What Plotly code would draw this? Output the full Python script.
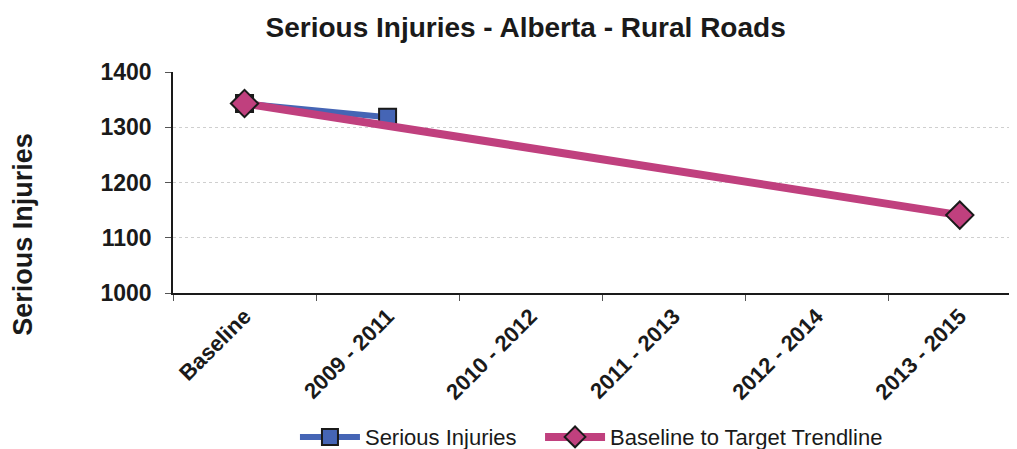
import plotly.graph_objects as go

# Chart data
periods = ["Baseline", "2009 - 2011", "2010 - 2012", "2011 - 2013", "2012 - 2014", "2013 - 2015"]
serious_injuries = [1343, 1318, None, None, None, None]
target_trendline = [1343, None, None, None, None, 1141]

FONT = "Liberation Sans, Arial, sans-serif"

fig = go.Figure()

fig.add_trace(go.Scatter(
    x=periods, y=serious_injuries, name="Serious Injuries",
    mode="lines+markers", legend="legend",
    line=dict(color="#4565B5", width=6),
    marker=dict(symbol="square", size=17, color="#4565B5",
                line=dict(color="#1a1a1a", width=2)),
))

fig.add_trace(go.Scatter(
    x=periods, y=target_trendline, name="Baseline to Target Trendline",
    mode="lines+markers", connectgaps=True, legend="legend2",
    line=dict(color="#C0407E", width=8),
    marker=dict(symbol="diamond", size=21, color="#C0407E",
                line=dict(color="#1a1a1a", width=2)),
))

legend_style = dict(orientation="h", xref="container", yref="container",
                    xanchor="left", y=0.027, yanchor="middle",
                    font=dict(size=22, family=FONT), itemwidth=60,
                    bgcolor="rgba(0,0,0,0)")

# page body has an 8px margin, so the figure is 8px smaller than the window
fig.update_layout(
    width=1009, height=441,
    margin=dict(l=165, r=0, t=64, b=156),
    paper_bgcolor="white", plot_bgcolor="white",
    font=dict(family=FONT, color="#1a1a1a"),
    title=dict(text="<b>Serious Injuries - Alberta - Rural Roads</b>",
               x=0.513, xanchor="center", y=0.957, yanchor="middle",
               font=dict(size=28, family=FONT, color="#1a1a1a")),
    showlegend=True,
    legend=dict(x=0.2844, **legend_style),
    legend2=dict(x=0.5273, **legend_style),
    xaxis=dict(
        type="category", range=[-0.5, 5.4], automargin=False,
        tickson="boundaries", ticks="outside", ticklen=6, tickcolor="#555",
        showline=True, linecolor="#1a1a1a", linewidth=1.5,
        showgrid=False, tickangle=-45,
        tickfont=dict(size=22, family=FONT, weight="bold"),
    ),
    yaxis=dict(
        range=[1000, 1400], dtick=100, automargin=False,
        ticks="outside", ticklen=6, tickcolor="#555", ticklabelstandoff=9,
        showline=True, linecolor="#1a1a1a", linewidth=1.5,
        showgrid=True, gridcolor="#cfcfcf", griddash="dot", gridwidth=1,
        tickfont=dict(size=23, family=FONT, weight="bold"),
    ),
)

fig.add_annotation(
    text="<b>Serious Injuries</b>", textangle=-90,
    xref="paper", yref="paper", x=-0.178, y=0.267, xanchor="center", yanchor="middle",
    showarrow=False, font=dict(size=27, family=FONT, color="#1a1a1a"),
)

fig.write_html("out.html")
